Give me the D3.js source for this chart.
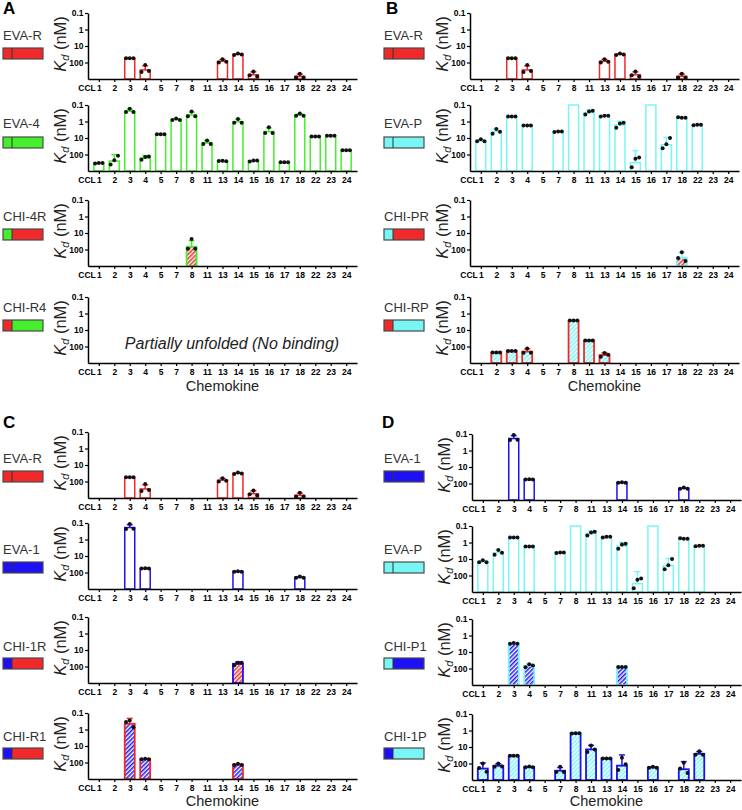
<!DOCTYPE html>
<html><head><meta charset="utf-8">
<script src="https://cdn.jsdelivr.net/npm/d3@7"></script>
<style>body{margin:0;background:#fff}svg{display:block;font-family:Arial,"Liberation Sans",sans-serif}</style>
</head><body><svg id="c" width="742" height="810"></svg>
<script>
// ---------- DATA ----------
const categories = ["1","2","3","4","5","7","8","11","13","14","15","16","17","18","22","23","24"];
const yTicks = [0.1, 1, 10, 100];
// replicate Kd values (nM) per chemokine
const EVA_R = [["3",[55,55,55]],["4",[380,140,330]],["13",[100,63,90]],["14",[35,28,33]],["15",[600,350,700]],["18",[800,480,800]]];
const EVA_4 = [["1",[350,330,330]],["2",[410,220,120]],["3",[0.27,0.17,0.27]],["4",[210,140,130]],["5",[6,6,6]],["7",[0.8,0.66,0.8]],["8",[0.48,0.25,0.48]],["11",[23,14,23]],["13",[250,240,260]],["14",[1.2,0.7,1.2]],["15",[270,230,230]],["16",[5,2.2,5]],["17",[300,300,300]],["18",[0.45,0.33,0.45]],["22",[8,8,8]],["23",[7.2,7.2,7.2]],["24",[55,55,55]]];
const CHI_4R = [["8",[90,23,90]]];
const CHI_R4 = [];
const EVA_P = [["1",[16,12,16]],["2",[5.5,2.8,4.2]],["3",[0.5,0.5,0.5]],["4",[1.75,1.75,1.75]],["7",[4.4,4,4]],["11",[0.38,0.25,0.22]],["13",[0.5,0.45,0.45]],["14",[2.4,1.3,1.2]],["15",[600,180,150]],["17",[42,24,10]],["18",[0.55,0.6,0.6]],["22",[1.7,1.6,1.6]]];
const EVA_P_below_range = ["8","16"]; // Kd < 0.1 nM, bar drawn to top, no points
const CHI_PR = [["18",[330,145,500]]];
const CHI_RP = [["2",[230,230,230]],["3",[190,190,190]],["4",[240,130,240]],["8",[2.7,2.7,2.7]],["11",[44,44,44]],["13",[420,250,320]]];
const EVA_1 = [["3",[0.23,0.115,0.22]],["4",[58,55,58]],["14",[90,85,90]],["18",[210,175,210]]];
const CHI_1R = [["14",[85,60,60]]];
const CHI_R1 = [["3",[0.35,0.28,0.72]],["4",[63,60,63]],["14",[140,120,140]]];
const CHI_P1 = [["3",[3.2,2.8,3.2]],["4",[85,55,65]],["14",[80,80,80]]];
const CHI_1P = [["1",[190,100,320]],["2",[160,100,150]],["3",[34,34,34]],["4",[170,150,170]],["7",[330,160,330]],["8",[1.5,1.45,1.45]],["11",[20,8,14]],["13",[50,50,50]],["14",[250,45,110]],["16",[180,160,180]],["18",[200,90,380]],["22",[30,18,30]]];

// ---------- STYLE ----------
const RED = "#f02a2a", GREEN = "#44f02c", BLUE = "#1e10f4", CYAN = "#78f6f6";
const H = 66;

const quads = [
  {letter:"A", lx:3, ly:14, x0:88, nameX:3, tops:[13,105,200,297], nameY:[40,128,221,312], boxY:[48,137,229,320], titleY:391,
   plots:[
    {name:"EVA-R", box:[RED,RED], stroke:RED, data:EVA_R},
    {name:"EVA-4", box:[GREEN,GREEN], stroke:GREEN, data:EVA_4},
    {name:"CHI-4R", box:[GREEN,RED], stroke:GREEN, hatch:RED, data:CHI_4R},
    {name:"CHI-R4", box:[RED,GREEN], stroke:RED, hatch:GREEN, data:CHI_R4, note:"Partially unfolded (No binding)"}]},
  {letter:"B", lx:386, ly:14, x0:470, nameX:384, tops:[13,105,200,297], nameY:[40,128,221,312], boxY:[48,137,229,320], titleY:391,
   plots:[
    {name:"EVA-R", box:[RED,RED], stroke:RED, data:EVA_R},
    {name:"EVA-P", box:[CYAN,CYAN], stroke:CYAN, data:EVA_P, top:EVA_P_below_range},
    {name:"CHI-PR", box:[CYAN,RED], stroke:CYAN, hatch:RED, data:CHI_PR},
    {name:"CHI-RP", box:[RED,CYAN], stroke:RED, hatch:CYAN, data:CHI_RP}]},
  {letter:"C", lx:3, ly:428, x0:88, nameX:3, tops:[432,523,617,713], nameY:[463,554,651,741], boxY:[471,562,658,748], titleY:806,
   plots:[
    {name:"EVA-R", box:[RED,RED], stroke:RED, data:EVA_R},
    {name:"EVA-1", box:[BLUE,BLUE], stroke:BLUE, data:EVA_1},
    {name:"CHI-1R", box:[BLUE,RED], stroke:BLUE, hatch:RED, data:CHI_1R},
    {name:"CHI-R1", box:[BLUE,RED], stroke:RED, hatch:BLUE, data:CHI_R1}]},
  {letter:"D", lx:382, ly:428, x0:472, nameX:384, tops:[434,526,619,714], nameY:[463,554,651,741], boxY:[471,562,658,748], titleY:806,
   plots:[
    {name:"EVA-1", box:[BLUE,BLUE], stroke:BLUE, data:EVA_1},
    {name:"EVA-P", box:[CYAN,CYAN], stroke:CYAN, data:EVA_P, top:EVA_P_below_range},
    {name:"CHI-P1", box:[CYAN,BLUE], stroke:CYAN, hatch:BLUE, data:CHI_P1},
    {name:"CHI-1P", box:[BLUE,CYAN], stroke:BLUE, hatch:CYAN, data:CHI_1P}]}
];

const svg = d3.select("#c");
const defs = svg.append("defs");
function hatch(color){
  const id = "h" + color.slice(1);
  if (defs.select("#" + id).empty()) {
    const p = defs.append("pattern").attr("id", id).attr("patternUnits","userSpaceOnUse")
      .attr("width",3).attr("height",3).attr("patternTransform","rotate(45)");
    p.append("rect").attr("width",3).attr("height",3).attr("fill","#fff");
    p.append("line").attr("x1",0.8).attr("y1",0).attr("x2",0.8).attr("y2",3).attr("stroke",color).attr("stroke-width",1.5);
  }
  return `url(#${id})`;
}

function drawPlot(q, i, spec){
  const top = q.tops[i], bottom = top + H;
  const y = d3.scaleLog().domain([0.1, 1000]).range([top, bottom]);
  const x = d3.scalePoint().domain(categories).range([q.x0, q.x0 + 269]).padding(0.7);
  const g = svg.append("g");

  // bars
  const bw = 10, sw = spec.hatch ? 1.8 : 1.5;
  (spec.top || []).forEach(cat => {
    g.append("rect").attr("x", x(cat) - bw/2).attr("y", y(0.1)).attr("width", bw).attr("height", bottom - y(0.1))
      .attr("fill", "#fff").attr("stroke", spec.stroke).attr("stroke-width", sw);
  });
  spec.data.forEach(([cat, reps]) => {
    const m = d3.mean(reps), sd = d3.deviation(reps) || 0, cx = x(cat);
    g.append("rect").attr("x", cx - bw/2).attr("y", y(m)).attr("width", bw).attr("height", bottom - y(m))
      .attr("fill", spec.hatch ? hatch(spec.hatch) : "#fff").attr("stroke", spec.stroke).attr("stroke-width", sw);
    if (sd > 0) {
      const yt = y(Math.max(m - sd, 0.1));
      if (y(m) - yt > 1) {
        g.append("line").attr("x1", cx).attr("x2", cx).attr("y1", y(m)).attr("y2", yt).attr("stroke", spec.stroke).attr("stroke-width", 1.5);
        g.append("line").attr("x1", cx - 3).attr("x2", cx + 3).attr("y1", yt).attr("y2", yt).attr("stroke", spec.stroke).attr("stroke-width", 1.5);
      }
    }
    reps.forEach((v, j) => {
      g.append("circle").attr("cx", cx + (j - 1) * 3.7).attr("cy", y(v)).attr("r", 2).attr("fill", "#111");
    });
  });

  // axes
  const ya = g.append("g").attr("transform", `translate(${q.x0},0)`)
    .call(d3.axisLeft(y).tickValues(yTicks).tickFormat(d => String(d)).tickSize(3).tickSizeOuter(0).tickPadding(1.5));
  const xa = g.append("g").attr("transform", `translate(0,${bottom})`)
    .call(d3.axisBottom(x).tickSize(3).tickSizeOuter(0).tickPadding(3));
  [ya, xa].forEach(a => {
    a.select(".domain").attr("stroke", "#000").attr("stroke-width", 1.5);
    a.selectAll(".tick line").attr("stroke", "#000").attr("stroke-width", 1.2);
    a.selectAll(".tick text").attr("font-size", 8.5).attr("font-weight", "bold").attr("fill", "#000")
      .attr("font-family", "Arial, 'Liberation Sans', sans-serif");
  });
  g.append("text").attr("x", x(categories[0]) - 3).attr("y", bottom + 3 + 3).attr("dy", "0.71em")
    .attr("text-anchor", "end").attr("font-size", 8.5).attr("font-weight", "bold").text("CCL");

  // y label
  const yl = g.append("text").attr("transform", `translate(${q.x0 - 22},${top + 31}) rotate(-90)`)
    .attr("text-anchor", "middle").attr("font-size", 16.5).attr("fill", "#222");
  yl.append("tspan").attr("font-style", "italic").text("K");
  yl.append("tspan").attr("font-style", "italic").attr("font-size", 11).attr("dy", 3).text("d");
  yl.append("tspan").attr("dy", -3).text(" (nM)");

  // name + construct box
  g.append("text").attr("x", q.nameX).attr("y", q.nameY[i]).attr("font-size", 13).attr("fill", "#333").text(spec.name);
  const bx = q.nameX, by = q.boxY[i];
  g.append("rect").attr("x", bx).attr("y", by).attr("width", 9).attr("height", 11).attr("fill", spec.box[0]);
  g.append("rect").attr("x", bx + 9).attr("y", by).attr("width", 31).attr("height", 11).attr("fill", spec.box[1]);
  g.append("rect").attr("x", bx).attr("y", by).attr("width", 40).attr("height", 11).attr("fill", "none").attr("stroke", "#4a4a4a").attr("stroke-width", 1.2);
  g.append("line").attr("x1", bx + 9).attr("x2", bx + 9).attr("y1", by).attr("y2", by + 11).attr("stroke", "#333").attr("stroke-width", 1);

  if (spec.note) {
    g.append("text").attr("x", q.x0 + 144).attr("y", top + 52).attr("text-anchor", "middle")
      .attr("font-size", 16).attr("font-style", "italic").attr("fill", "#222").text(spec.note);
  }
}

quads.forEach(q => {
  svg.append("text").attr("x", q.lx).attr("y", q.ly).attr("font-size", 17).attr("font-weight", "bold").text(q.letter);
  q.plots.forEach((p, i) => drawPlot(q, i, p));
  svg.append("text").attr("x", q.x0 + 134.5).attr("y", q.titleY).attr("text-anchor", "middle")
    .attr("font-size", 14.5).attr("fill", "#222").text("Chemokine");
});
</script></body></html>
